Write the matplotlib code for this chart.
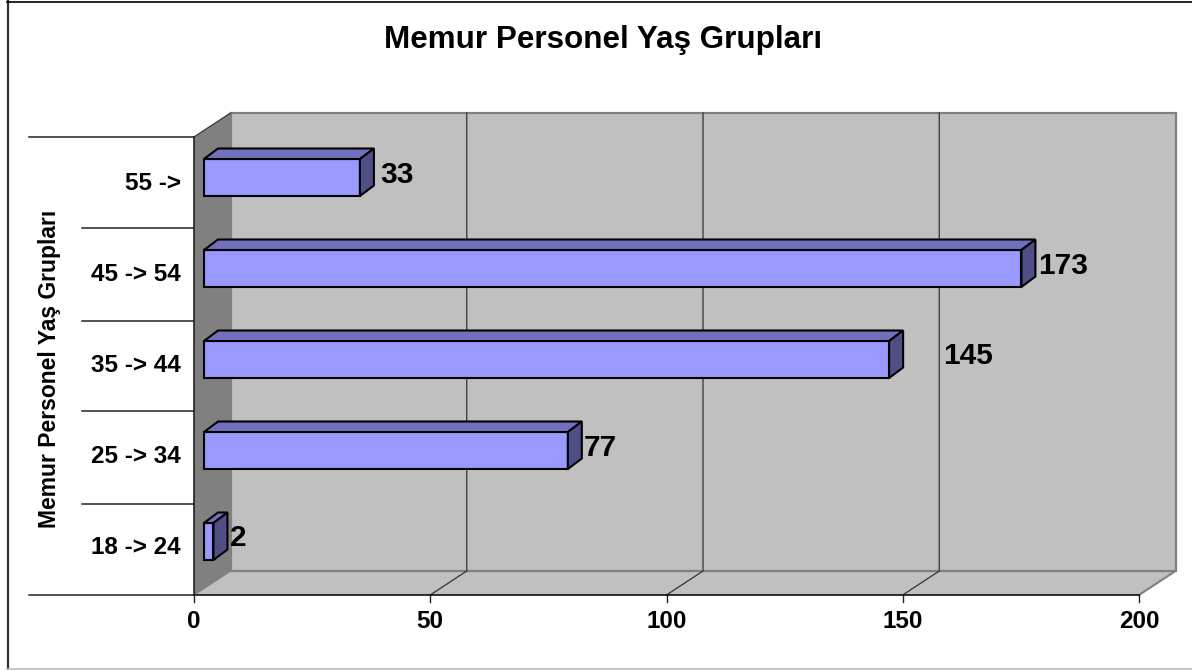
import matplotlib
matplotlib.use("Agg")
import matplotlib.pyplot as plt
from matplotlib.patches import Polygon, Rectangle

categories = ["18 -> 24", "25 -> 34", "35 -> 44", "45 -> 54", "55 ->"]
values = [2, 77, 145, 173, 33]
x_ticks = [0, 50, 100, 150, 200]
title = "Memur Personel Yaş Grupları"
y_title = "Memur Personel Yaş Grupları"
# extra horizontal gap (pixels) of each value label beyond its bar
label_gap = [17, 16, 54, 17, 20]

W, H = 1192, 670
X0, PX_PER_UNIT = 194.0, 4.725     # pixel of value 0, pixels per value unit
Y0, PX_PER_CAT = 541.5, 91.0       # pixel of first category, pixels per category
plt.rcParams["font.family"] = ["Liberation Sans", "DejaVu Sans"]
plt.rcParams["font.weight"] = "bold"

fig = plt.figure(figsize=(W / 100, H / 100), dpi=100, facecolor="white")
ax = fig.add_axes([0, 0, 1, 1])
ax.set_xlim((0 - X0) / PX_PER_UNIT, (W - X0) / PX_PER_UNIT)
ax.set_ylim((Y0 - H) / PX_PER_CAT, Y0 / PX_PER_CAT)
ax.axis("off")


def ux(px):
    return px / PX_PER_UNIT


def uy(px):
    return px / PX_PER_CAT


def X(px):
    return (px - X0) / PX_PER_UNIT


def Y(px):
    return (Y0 - px) / PX_PER_CAT


vmin, vmax = x_ticks[0], x_ticks[-1]
cat_lo, cat_hi = Y(595), Y(137)
dep_x, dep_y = ux(36.5), uy(24)
GREY = "#C0C0C0"
EDGE = "#808080"

# walls
ax.add_patch(Polygon([(vmin, cat_lo), (vmin + dep_x, cat_lo + dep_y),
                      (vmin + dep_x, cat_hi + dep_y), (vmin, cat_hi)],
                     fc="#808080", ec="none", zorder=1))
ax.add_patch(Polygon([(vmin, cat_lo), (vmax, cat_lo), (vmax + dep_x, cat_lo + dep_y),
                      (vmin + dep_x, cat_lo + dep_y)], fc=GREY, ec="none", zorder=1))
ax.add_patch(Rectangle((vmin + dep_x, cat_lo + dep_y), vmax - vmin, cat_hi - cat_lo,
                       fc=GREY, ec=EDGE, lw=1.6, zorder=1))
ax.plot([vmin, vmin + dep_x], [cat_hi, cat_hi + dep_y], color="#404040", lw=1, zorder=2)
ax.plot([vmax, vmax + dep_x], [cat_lo, cat_lo + dep_y], color=EDGE, lw=1.5, zorder=2)
ax.plot([vmin, vmin + dep_x], [cat_lo, cat_lo + dep_y], color=EDGE, lw=1, zorder=2)

# gridlines and x ticks
for t in x_ticks[1:-1]:
    ax.plot([t, t + dep_x, t + dep_x],
            [cat_lo, cat_lo + dep_y, cat_hi + dep_y], color="#333333", lw=0.9, zorder=2)
for t in x_ticks:
    ax.plot([t, t], [cat_lo, cat_lo - uy(7)], color="#222222", lw=1, zorder=2)
    ax.text(t, Y(621), str(t), ha="center", va="center", fontsize=17.5)

# axis lines
ax.plot([vmin, vmax], [cat_lo, cat_lo], color="#111111", lw=1.2, zorder=3)
ax.plot([vmin, vmin], [cat_lo, cat_hi], color="#222222", lw=1.2, zorder=3)

# category separators (outer ones longer)
edge_pos = [cat_lo, Y(504), Y(411), Y(321), Y(228), cat_hi]
for i, yy in enumerate(edge_pos):
    left = X(29) if i in (0, len(edge_pos) - 1) else X(82)
    ax.plot([left, vmin], [yy, yy], color="#222222", lw=1.1, zorder=3)

# bars
bar_h = uy(37)
bdx, bdy = ux(14), uy(10.5)
start = ux(10)
y_pos = list(range(len(categories)))
ax.barh(y_pos, values, height=bar_h, left=start, color="#9999FF",
        edgecolor="black", linewidth=1.5, zorder=5)
for y, v, gap, cat in zip(y_pos, values, label_gap, categories):
    r, t, b = start + v, y + bar_h / 2, y - bar_h / 2
    ax.add_patch(Polygon([(start, t), (r, t), (r + bdx, t + bdy), (start + bdx, t + bdy)],
                         fc="#7070BC", ec="black", lw=1.5, zorder=5))
    ax.add_patch(Polygon([(r, t), (r + bdx, t + bdy), (r + bdx, b + bdy), (r, b)],
                         fc="#4F4F85", ec="black", lw=1.5, zorder=5))
    ax.text(r + ux(gap), y + uy(3), str(v), ha="left", va="center", fontsize=21.5, zorder=6)
    ax.text(X(181), y - uy(6), cat, ha="right", va="center", fontsize=17.5)

# titles
ax.text(X(603), Y(40), title, ha="center", va="center", fontsize=22.6)
ax.text(X(49), Y(369), y_title, ha="center", va="center", rotation=90, fontsize=16.5)

# outer frame
ax.plot([X(7.5), X(7.5)], [Y(1), Y(669)], color="#333333", lw=1.6, zorder=7)
ax.plot([X(7), X(1192)], [Y(1.5), Y(1.5)], color="black", lw=1.2, zorder=7)
ax.plot([X(7), X(1192)], [Y(669), Y(669)], color="#BBBBBB", lw=1.2, zorder=7)

fig.savefig("out.png", dpi=100, facecolor="white")
